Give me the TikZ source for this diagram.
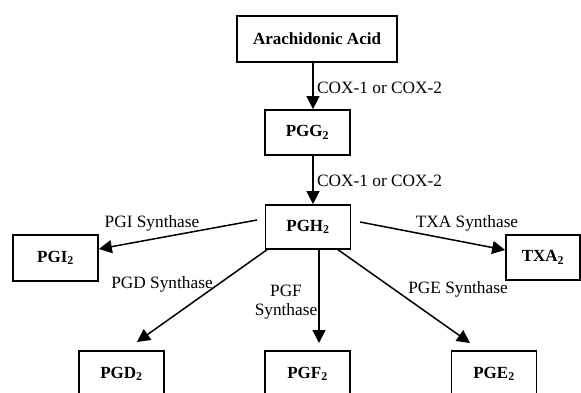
\documentclass[tikz,border=0pt]{standalone}
\usepackage{fontspec}
\setmainfont{Liberation Serif}
\usetikzlibrary{arrows.meta,calc}
\begin{document}
\begin{tikzpicture}[x=1pt,y=-1pt,
  box/.style={draw,line width=1.7pt,minimum width=85pt,minimum height=45pt,inner sep=0pt,font=\fontsize{17}{19}\selectfont\bfseries},
  conn/.style={line width=1.5pt,-{Triangle[length=13pt,width=13pt]}},
  lab/.style={font=\fontsize{17.3}{19.5}\selectfont,inner sep=0pt}]
\clip (0,0) rectangle (581,393);
\fill[white] (0,0) rectangle (581,393);
\node[box,minimum width=160pt,minimum height=46pt] (aa) at (317,39) {Arachidonic Acid};
\node[box] (pgg) at (307.5,132.5) {PGG\textsubscript{2}};
\node[box,minimum height=44pt] (pgh) at (308,227) {PGH\textsubscript{2}};
\node[box,minimum height=46pt] (pgi) at (55.5,258) {PGI\textsubscript{2}};
\node[box,minimum width=74pt,minimum height=45pt] (txa) at (543,257.5) {TXA\textsubscript{2}};
\node[box,minimum height=46pt] (pgd) at (121.5,374) {PGD\textsubscript{2}};
\node[box,minimum height=46pt] (pgf) at (307.5,374) {PGF\textsubscript{2}};
\node[box,minimum height=46pt] (pge) at (494,374) {PGE\textsubscript{2}};
\coordinate (xa) at (313,0);
\coordinate (xf) at (319,0);
\coordinate (pgis) at (257,220);
\coordinate (txas) at (360,222);
\coordinate (pgds) at (268,249);
\coordinate (pges) at (337,249);
\coordinate (pgdt) at (137,342);
\coordinate (pget) at (470,343);
\coordinate (pgft) at (319,343);
\draw[conn] (aa.south -| xa) -- (pgg.north -| xa);
\draw[conn] (pgg.south -| xa) -- (pgh.north -| xa);
\draw[conn] (pgis) -- (pgi.east |- 0,249);
\draw[conn] (txas) -- (txa.west |- 0,250);
\draw[conn] (pgds) -- (pgdt);
\draw[conn] (pges) -- (pget);
\draw[conn] (pgh.south -| xf) -- (pgft);
\node[lab,anchor=west] (l1) at (317,88) {COX-1 or COX-2};
\node[lab,anchor=west] (l2) at (317,181) {COX-1 or COX-2};
\node[lab] (l3) at (152,223) {PGI Synthase};
\node[lab] (l4) at (467,223) {TXA Synthase};
\node[lab] (l5) at (162,284) {PGD Synthase};
\node[lab] (l6) at (458,289) {PGE Synthase};
\node[lab,align=center] (l7) at (286,302) {PGF\\Synthase};
\end{tikzpicture}
\end{document}
